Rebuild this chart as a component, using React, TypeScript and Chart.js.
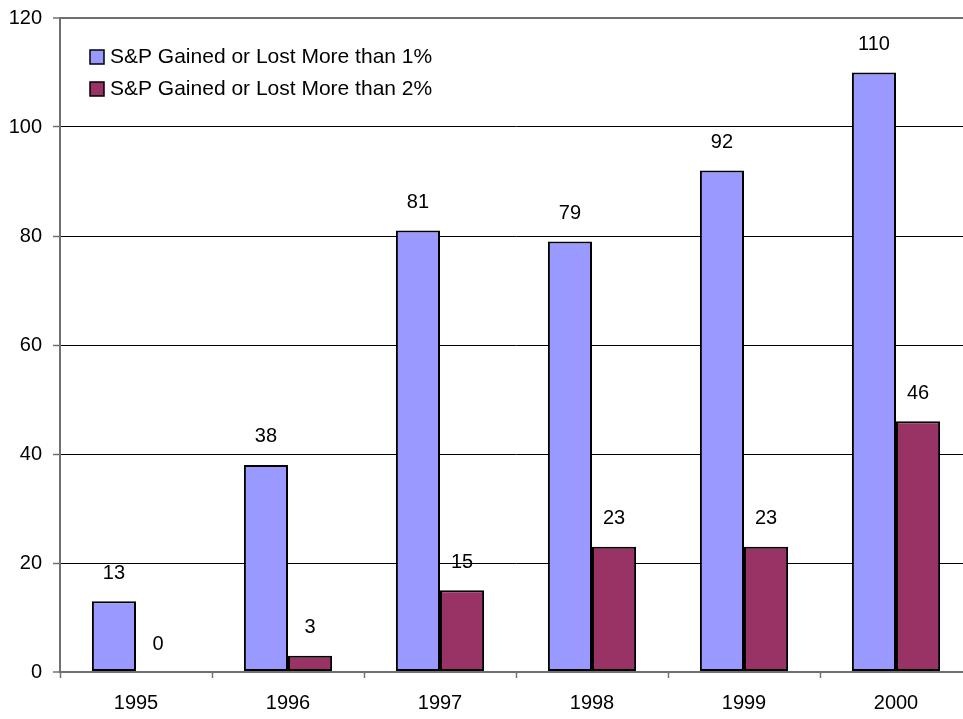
import React, { useEffect, useRef } from "react";
import { Chart, registerables } from "chart.js";

Chart.register(...registerables);

const categories = ["1995", "1996", "1997", "1998", "1999", "2000"];
const seriesNames = [
  "S&P Gained or Lost More than 1%",
  "S&P Gained or Lost More than 2%",
];
const moreThan1 = [13, 38, 81, 79, 92, 110];
const moreThan2 = [0, 3, 15, 23, 23, 46];
const yTickValues = [0, 20, 40, 60, 80, 100, 120];

const FONT = "'Liberation Sans', Arial, Helvetica, sans-serif";
const BLUE = "#9999FF";
const PLUM = "#993366";
const GRAY = "#707070";

const dataLabelPlugin = {
  id: "dataLabels",
  afterDatasetsDraw(chart: any) {
    const ctx = chart.ctx;
    ctx.save();
    ctx.font = `20px ${FONT}`;
    ctx.fillStyle = "#000";
    ctx.textAlign = "center";
    ctx.textBaseline = "middle";
    chart.data.datasets.forEach((ds: any, di: number) => {
      const meta = chart.getDatasetMeta(di);
      meta.data.forEach((el: any, i: number) => {
        ctx.fillText(String(ds.data[i]), el.x, el.y - 28);
      });
    });
    ctx.restore();
  },
};

const legendPlugin = {
  id: "insideLegend",
  afterDraw(chart: any) {
    const ctx = chart.ctx;
    const top = chart.chartArea.top;
    ctx.save();
    ctx.font = `21px ${FONT}`;
    ctx.textBaseline = "middle";
    ctx.textAlign = "left";
    chart.data.datasets.forEach((ds: any, di: number) => {
      const cy = top + 39 + di * 32;
      ctx.fillStyle = ds.backgroundColor;
      ctx.fillRect(90, cy - 7, 14, 14);
      ctx.strokeStyle = "#000";
      ctx.lineWidth = 1.5;
      ctx.strokeRect(90, cy - 7, 14, 14);
      ctx.fillStyle = "#000";
      ctx.fillText(ds.label, 110, cy);
    });
    ctx.restore();
  },
};

export default function App() {
  const canvasRef = useRef<HTMLCanvasElement | null>(null);

  useEffect(() => {
    if (!canvasRef.current) return;
    const chart = new Chart(canvasRef.current, {
      type: "bar",
      data: {
        labels: categories,
        datasets: [
          {
            label: seriesNames[0],
            data: moreThan1,
            backgroundColor: BLUE,
            borderColor: "#000",
            borderWidth: 2,
            borderSkipped: false,
          },
          {
            label: seriesNames[1],
            data: moreThan2,
            backgroundColor: PLUM,
            borderColor: "#000",
            borderWidth: 2,
            borderSkipped: false,
          },
        ],
      },
      options: {
        responsive: false,
        animation: false,
        devicePixelRatio: 1,
        datasets: {
          bar: { categoryPercentage: 0.58, barPercentage: 1.0 },
        },
        layout: { padding: { top: 12, right: 8, bottom: 0, left: 0 } },
        plugins: {
          legend: { display: false },
          tooltip: { enabled: false },
        },
        scales: {
          x: {
            grid: {
              display: true,
              drawOnChartArea: false,
              drawTicks: true,
              tickLength: 6,
              tickColor: GRAY,
              tickWidth: 1.5,
              offset: true,
            },
            border: { display: true, color: GRAY, width: 2 },
            ticks: {
              color: "#000",
              font: { family: FONT, size: 20 },
              padding: 13,
              maxRotation: 0,
            },
            afterFit(scale: any) {
              scale.height = 47;
            },
          },
          y: {
            min: 0,
            max: 120,
            afterBuildTicks(scale: any) {
              scale.ticks = yTickValues.map((v) => ({ value: v }));
            },
            grid: {
              color: (c: any) =>
                c.tick && (c.tick.value === 0 || c.tick.value === 120) ? GRAY : "#000",
              lineWidth: (c: any) =>
                c.tick && (c.tick.value === 0 || c.tick.value === 120) ? 2 : 1,
              drawTicks: true,
              tickLength: 7,
              tickColor: GRAY,
              tickWidth: 1.5,
            },
            border: { display: true, color: GRAY, width: 2 },
            ticks: {
              color: "#000",
              font: { family: FONT, size: 20 },
              padding: 11,
            },
            afterFit(scale: any) {
              scale.width = 60;
            },
          },
        },
      },
      plugins: [dataLabelPlugin, legendPlugin],
    });
    return () => chart.destroy();
  }, []);

  return (
    <div
      style={{
        position: "fixed",
        left: 0,
        top: 0,
        width: 963,
        height: 719,
        overflow: "hidden",
        background: "#fff",
      }}
    >
      <canvas
        ref={canvasRef}
        width={980}
        height={724}
        style={{ width: 980, height: 724, display: "block", marginTop: -5 }}
      />
    </div>
  );
}
